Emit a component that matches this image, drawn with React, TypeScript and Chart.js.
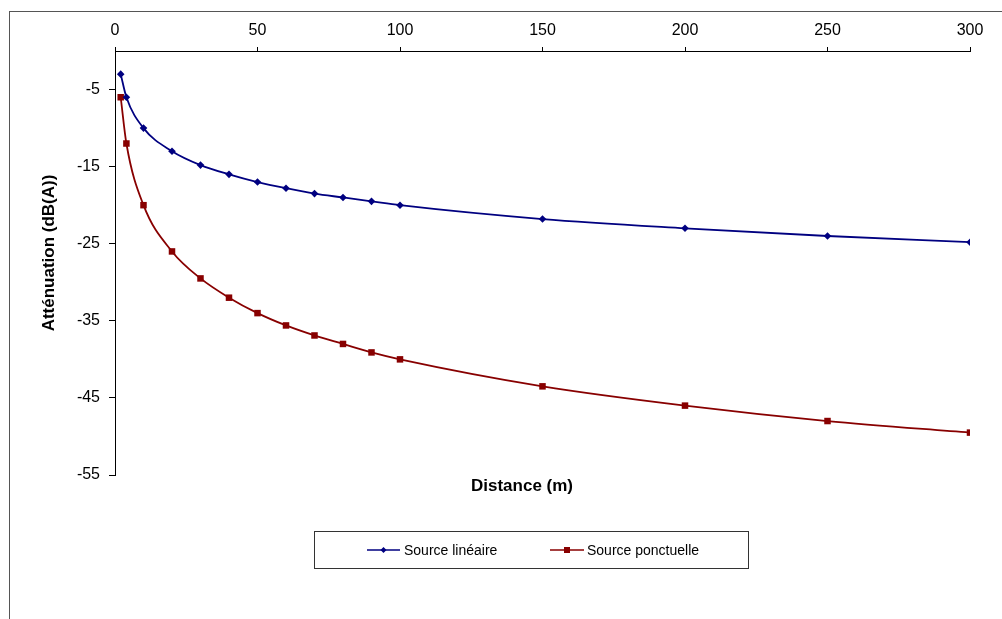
import React, { useEffect, useRef } from "react";
import { Chart, registerables } from "chart.js";

Chart.register(...registerables);

const distances = [2, 4, 10, 20, 30, 40, 50, 60, 70, 80, 90, 100, 150, 200, 250, 300];
const sourceLineaire = [-3, -6, -10, -13, -14.8, -16, -17, -17.8, -18.5, -19, -19.5, -20, -21.8, -23, -24, -24.8];
const sourcePonctuelle = [-6, -12, -20, -26, -29.5, -32, -34, -35.6, -36.9, -38, -39.1, -40, -43.5, -46, -48, -49.5];
const xTicks = [0, 50, 100, 150, 200, 250, 300];
const yTicks = [-55, -45, -35, -25, -15, -5];
const seriesNames = ["Source linéaire", "Source ponctuelle"];
const xTitle = "Distance (m)";
const yTitle = "Atténuation (dB(A))";

const BLUE = "#000080";
const RED = "#880000";
const FONT = "Liberation Sans, Arial, sans-serif";

const decorPlugin = {
  id: "decor",
  afterDraw(chart: any) {
    const ctx = chart.ctx as CanvasRenderingContext2D;
    ctx.save();
    // outer frame
    ctx.strokeStyle = "#555";
    ctx.lineWidth = 1;
    ctx.strokeRect(9.5, 11.5, 1010, 640);
    // axis titles
    ctx.fillStyle = "#000";
    ctx.font = `bold 17px ${FONT}`;
    ctx.textAlign = "center";
    ctx.textBaseline = "middle";
    ctx.fillText(xTitle, 522, 486);
    ctx.save();
    ctx.translate(49, 253);
    ctx.rotate(-Math.PI / 2);
    ctx.fillText(yTitle, 0, 0);
    ctx.restore();
    // legend
    ctx.strokeStyle = "#333";
    ctx.strokeRect(314.5, 531.5, 434, 37);
    const items = [
      { x0: 367, x1: 400, tx: 404, color: BLUE, shape: "diamond", label: seriesNames[0] },
      { x0: 550, x1: 584, tx: 587, color: RED, shape: "square", label: seriesNames[1] },
    ];
    const ly = 550;
    ctx.font = `14px ${FONT}`;
    ctx.textAlign = "left";
    for (const it of items) {
      ctx.strokeStyle = it.color;
      ctx.lineWidth = 1.6;
      ctx.beginPath();
      ctx.moveTo(it.x0, ly);
      ctx.lineTo(it.x1, ly);
      ctx.stroke();
      const cx = (it.x0 + it.x1) / 2;
      ctx.fillStyle = it.color;
      ctx.beginPath();
      if (it.shape === "diamond") {
        ctx.moveTo(cx, ly - 3);
        ctx.lineTo(cx + 3, ly);
        ctx.lineTo(cx, ly + 3);
        ctx.lineTo(cx - 3, ly);
        ctx.closePath();
      } else {
        ctx.rect(cx - 3, ly - 3, 6, 6);
      }
      ctx.fill();
      ctx.fillStyle = "#000";
      ctx.fillText(it.label, it.tx, ly + 1);
    }
    ctx.restore();
  },
};

export default function App() {
  const ref = useRef<HTMLCanvasElement | null>(null);
  useEffect(() => {
    if (!ref.current) return;
    const chart = new Chart(ref.current, {
      type: "line",
      data: {
        datasets: [
          {
            label: seriesNames[0],
            data: distances.map((d, i) => ({ x: d, y: sourceLineaire[i] })),
            borderColor: BLUE,
            backgroundColor: BLUE,
            borderWidth: 1.8,
            pointStyle: "rectRot",
            pointRadius: 3.8,
            pointBorderWidth: 0,
            cubicInterpolationMode: "monotone",
          },
          {
            label: seriesNames[1],
            data: distances.map((d, i) => ({ x: d, y: sourcePonctuelle[i] })),
            borderColor: RED,
            backgroundColor: RED,
            borderWidth: 1.8,
            pointStyle: "rect",
            pointRadius: 4.6,
            pointBorderWidth: 0,
            cubicInterpolationMode: "monotone",
          },
        ],
      },
      options: {
        responsive: false,
        animation: false,
        devicePixelRatio: 1,
        layout: { padding: { left: 0, top: 0, right: 32, bottom: 144 } },
        plugins: { legend: { display: false }, tooltip: { enabled: false } },
        scales: {
          x: {
            type: "linear",
            position: "top",
            min: 0,
            max: 300,
            afterBuildTicks: (s: any) => {
              s.ticks = xTicks.map((v) => ({ value: v }));
            },
            afterFit: (s: any) => {
              s.height = 51;
            },
            grid: { drawOnChartArea: false, tickLength: 4, color: "#000" },
            border: { color: "#000", width: 1 },
            ticks: { color: "#000", font: { family: FONT, size: 16 }, padding: 7, maxRotation: 0 },
          },
          y: {
            type: "linear",
            min: -55,
            max: 0,
            afterBuildTicks: (s: any) => {
              s.ticks = yTicks.map((v) => ({ value: v }));
            },
            afterFit: (s: any) => {
              s.width = 115;
            },
            grid: { drawOnChartArea: false, tickLength: 6, color: "#000" },
            border: { color: "#000", width: 1 },
            ticks: { color: "#000", font: { family: FONT, size: 16 }, padding: 9 },
          },
        },
      },
      plugins: [decorPlugin],
    } as any);
    return () => chart.destroy();
  }, []);
  return (
    <div style={{ position: "fixed", left: 0, top: 0, width: 1002, height: 619, background: "#fff" }}>
      <canvas ref={ref} width={1002} height={619} style={{ width: 1002, height: 619, display: "block" }} />
    </div>
  );
}
